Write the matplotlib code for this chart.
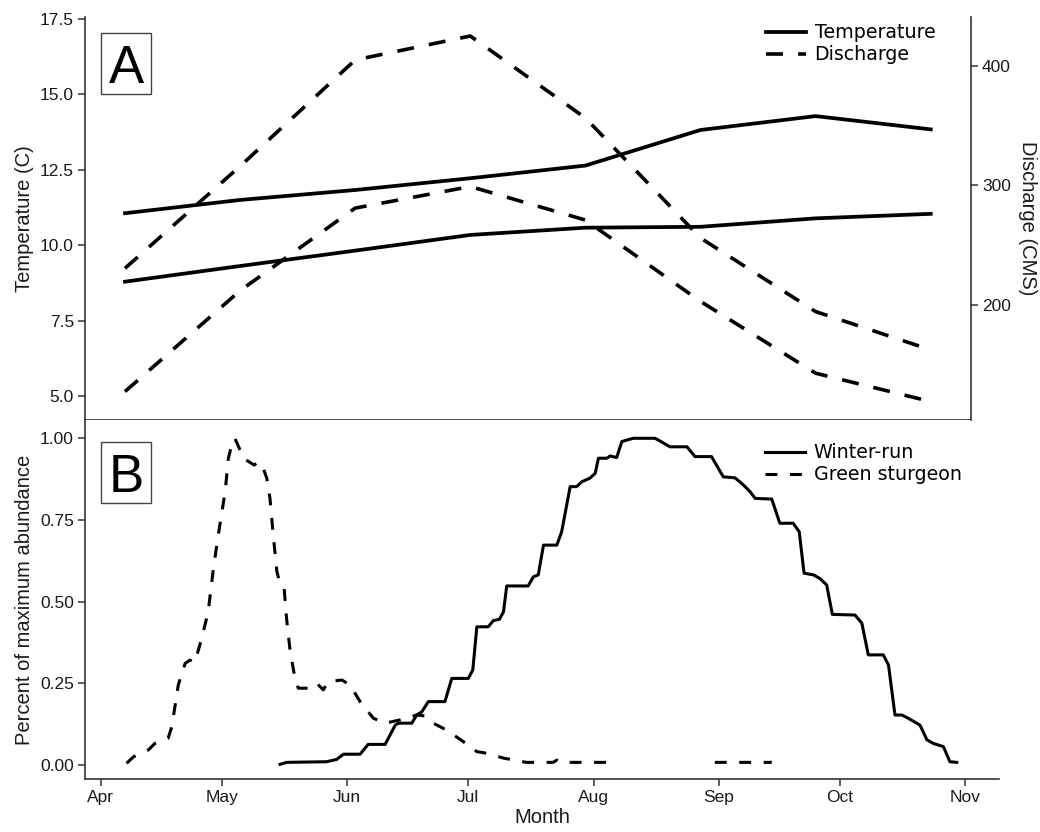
import matplotlib
matplotlib.use('Agg')
import matplotlib.pyplot as plt
import numpy as np
from matplotlib.patches import Rectangle

plt.rcParams['font.family'] = ['Liberation Sans', 'DejaVu Sans']

# Panel A: monthly means (Apr..Nov), two years of each variable
month_num = [4, 5, 6, 7, 8, 9, 10, 11]
temp_warm = [11.06, 11.5, 11.83, 12.22, 12.64, 13.82, 14.28, 13.84]
temp_cool = [8.79, 9.31, 9.82, 10.34, 10.58, 10.61, 10.89, 11.04]
flow_wet = [230.7, 316.0, 404.8, 424.8, 356.3, 256.0, 194.5, 162.5]
flow_dry = [127.7, 212.0, 281.0, 299.0, 271.0, 203.0, 143.0, 119.3]

temp_ticks = [5.0, 7.5, 10.0, 12.5, 15.0, 17.5]
flow_ticks = [200, 300, 400]

# Panel B: relative abundance, days counted from 1 April
sturgeon_day = [6.4, 8.1, 11.8, 13.4, 16.7, 17.6, 19.2, 20.9, 22.1, 23.3,
                25.0, 26.6, 27.9, 29.1, 30.8, 31.6, 32.4, 33.2, 34.5, 35.3,
                38.0, 39.0, 40.1, 41.1, 41.9, 42.7, 43.6, 44.4, 45.4, 46.0,
                46.9, 48.1, 48.9, 51.8, 53.5, 55.1, 56.3, 59.7, 61.7, 64.2,
                67.5, 70.4, 74.1, 78.2, 80.3, 82.3, 85.6, 89.8, 93.1, 95.5,
                99.7, 105.4, 112.0, 112.9, 113.7, 126.9, 127.5, 152.0, 166.1]
sturgeon_val = [0.005, 0.025, 0.046, 0.066, 0.082, 0.117, 0.245, 0.311, 0.321, 0.314,
                0.388, 0.469, 0.602, 0.704, 0.837, 0.939, 0.979, 1.0, 0.964, 0.939,
                0.918, 0.928, 0.913, 0.878, 0.816, 0.704, 0.592, 0.556, 0.541, 0.449,
                0.347, 0.265, 0.235, 0.235, 0.250, 0.230, 0.255, 0.260, 0.245, 0.194,
                0.143, 0.128, 0.138, 0.153, 0.150, 0.128, 0.107, 0.071, 0.041, 0.036,
                0.021, 0.008, 0.008, 0.015, 0.008, 0.008, np.nan, 0.008, 0.008]

winter_day = [44.4, 46.0, 55.9, 58.4, 60.1, 64.2, 66.2, 70.4, 72.9, 73.7,
              77.0, 78.2, 79.5, 81.1, 85.2, 86.9, 91.0, 92.1, 93.1, 95.9,
              97.2, 98.7, 99.7, 100.5, 105.8, 107.1, 108.3, 109.6, 112.9, 114.1,
              116.2, 117.8, 119.1, 121.1, 122.4, 123.2, 125.3, 126.1, 127.7, 129.0,
              131.8, 137.2, 138.4, 140.9, 145.1, 147.1, 151.2, 154.1, 157.0, 159.1,
              160.7, 162.0, 166.1, 168.1, 171.4, 172.9, 174.1, 176.4, 178.0, 179.7,
              181.1, 186.7, 188.4, 190.0, 193.7, 195.0, 196.6, 198.3, 199.9, 202.8,
              204.5, 206.1, 208.6, 210.2, 211.9]
winter_val = [0.002, 0.008, 0.010, 0.017, 0.033, 0.033, 0.063, 0.063, 0.122, 0.128,
              0.128, 0.153, 0.163, 0.194, 0.194, 0.265, 0.265, 0.291, 0.423, 0.423,
              0.442, 0.446, 0.469, 0.548, 0.548, 0.576, 0.582, 0.673, 0.673, 0.714,
              0.852, 0.852, 0.867, 0.878, 0.893, 0.939, 0.939, 0.946, 0.941, 0.990,
              1.0, 1.0, 0.992, 0.974, 0.974, 0.944, 0.944, 0.882, 0.879, 0.857,
              0.837, 0.816, 0.814, 0.740, 0.740, 0.714, 0.587, 0.582, 0.571, 0.551,
              0.461, 0.459, 0.434, 0.337, 0.337, 0.306, 0.153, 0.153, 0.143, 0.122,
              0.077, 0.066, 0.056, 0.010, 0.008]

month_start = [0, 30, 61, 91, 122, 153, 183, 214]
month_labels = ['Apr', 'May', 'Jun', 'Jul', 'Aug', 'Sep', 'Oct', 'Nov']
abund_ticks = [0.0, 0.25, 0.5, 0.75, 1.0]

W, H = 1040, 832
spine_col = '#333333'
text_col = '#1a1a1a'


def style_ticks(ax):
    ax.tick_params(direction='out', length=5, width=1.1, color=spine_col,
                   labelsize=12.5, labelcolor=text_col, pad=3)
    for s in ax.spines.values():
        s.set_color(spine_col)
        s.set_linewidth(1.2)


def panel_tag(fig, letter, x0, y0, baseline):
    # boxed panel letter, positions in figure pixels
    fig.add_artist(Rectangle((x0 / W, 1 - (y0 + 61) / H), 50 / W, 61 / H,
                             transform=fig.transFigure, fill=False,
                             edgecolor='#444444', linewidth=1.0))
    fig.text((x0 + 25) / W, 1 - baseline / H, letter, ha='center',
             va='baseline', fontsize=38, color='black')


fig = plt.figure(figsize=(10.4, 8.32), dpi=100)
ax_a = fig.add_axes([85 / W, 1 - 420 / H, 886 / W, 403 / H])
ax_b = fig.add_axes([85 / W, 1 - 779 / H, 914 / W, 359 / H])

# ---- panel A
dash_a = (4.7, 4.2)
l_temp, = ax_a.plot(month_num, temp_warm, color='black', lw=2.7,
                    solid_joinstyle='round', label='Temperature')
ax_a.plot(month_num, temp_cool, color='black', lw=2.7, solid_joinstyle='round')
ax_a.set_xlim(3.6525, 11.35)
ax_a.set_ylim(4.204, 17.566)
ax_a.set_yticks(temp_ticks)
ax_a.set_yticklabels(['%.1f' % t for t in temp_ticks])
ax_a.tick_params(axis='x', bottom=False, labelbottom=False)
ax_a.spines['top'].set_visible(False)
ax_a.spines['right'].set_visible(False)
style_ticks(ax_a)
ax_a.set_ylabel('Temperature (C)', fontsize=14.5, color=text_col)
ax_a.yaxis.set_label_coords(-0.058, 0.5)

ax_a2 = ax_a.twinx()
l_flow, = ax_a2.plot(month_num, flow_wet, color='black', lw=2.6,
                     dashes=dash_a, label='Discharge')
ax_a2.plot(month_num, flow_dry, color='black', lw=2.6, dashes=dash_a)
ax_a2.set_ylim(103.9, 440.7)
ax_a2.set_yticks(flow_ticks)
for side in ['top', 'left', 'bottom']:
    ax_a2.spines[side].set_visible(False)
style_ticks(ax_a2)
ax_a2.set_ylabel('Discharge (CMS)', fontsize=14.5, color=text_col,
                 rotation=270, va='bottom')
ax_a2.yaxis.set_label_coords(1.053, 0.5)

ax_a2.legend([l_temp, l_flow], ['Temperature', 'Discharge'], loc='upper left',
             bbox_to_anchor=(766 / W, 1 - 23.5 / H), bbox_transform=fig.transFigure,
             frameon=False, borderpad=0, borderaxespad=0, handlelength=2.1,
             handletextpad=0.45, labelspacing=0.14,
             prop={'family': 'DejaVu Sans', 'size': 13.7})

# ---- panel B
l_win, = ax_b.plot(winter_day, winter_val, color='black', lw=2.2,
                   solid_joinstyle='round', label='Winter-run')
l_stu, = ax_b.plot(sturgeon_day, sturgeon_val, color='black', lw=2.2,
                   dashes=(3.9, 4.1), label='Green sturgeon')
ax_b.set_xlim(-3.89, 222.35)
ax_b.set_ylim(-0.0429, 1.056)
ax_b.set_xticks(month_start)
ax_b.set_xticklabels(month_labels)
ax_b.set_yticks(abund_ticks)
ax_b.set_yticklabels(['%.2f' % t for t in abund_ticks])
ax_b.spines['top'].set_visible(False)
ax_b.spines['right'].set_visible(False)
style_ticks(ax_b)
ax_b.set_ylabel('Percent of maximum abundance', fontsize=14.5, color=text_col)
ax_b.yaxis.set_label_coords(-0.0558, 0.5)
ax_b.set_xlabel('Month', fontsize=14.5, color=text_col, va='top')
ax_b.xaxis.set_label_coords(0.5, -0.0808)

ax_b.legend([l_win, l_stu], ['Winter-run', 'Green sturgeon'], loc='upper left',
            bbox_to_anchor=(765 / W, 1 - 443.5 / H), bbox_transform=fig.transFigure,
            frameon=False, borderpad=0, borderaxespad=0, handlelength=2.1,
            handletextpad=0.45, labelspacing=0.14,
            prop={'family': 'DejaVu Sans', 'size': 13.7})

panel_tag(fig, 'A', 101, 33.3, 83)
panel_tag(fig, 'B', 101, 441.7, 491.7)

fig.savefig('out.png', dpi=100)
